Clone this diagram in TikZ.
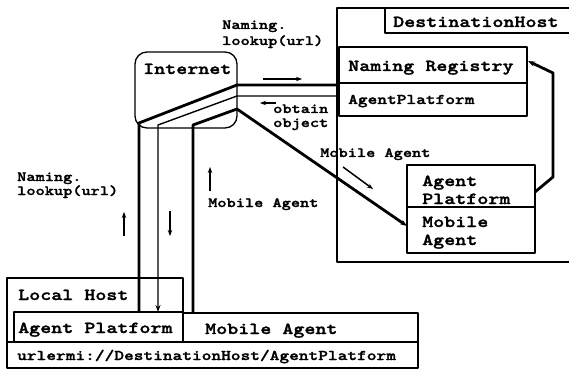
\documentclass[tikz,border=0pt]{standalone}
\usepackage{fontspec}
\newfontfamily\cf{lmmonolt10-bold.otf}[FakeStretch=1.25,FakeBold=1.6]
\usetikzlibrary{arrows.meta}
\newcommand\bigf{\cf\fontsize{16.8}{19}\selectfont}
\newcommand\medf{\cf\fontsize{14.8}{17}\selectfont}
\newcommand\smf{\cf\fontsize{14}{16}\selectfont}
\begin{document}
\begin{tikzpicture}[x=1pt,y=-1pt,line join=round,
  box/.style={draw,line width=1.3pt},
  txt/.style={inner sep=0pt,anchor=base west},
  heavy/.style={line width=2.8pt},
  light/.style={line width=1.4pt},
  tip/.style={-{Stealth[length=7pt,width=5pt]}},
  smallarrow/.style={line width=1.5pt,-{Stealth[length=6pt,width=4.5pt]}}]
\fill[white] (0,0) rectangle (569,374);
\clip (0,0) rectangle (569,374);
% Destination host
\draw[box] (337,8) rectangle (580,262);
\draw[box] (385,8) rectangle (580,33);
\node[txt] (dh) at (393,27) {\bigf DestinationHost};
\draw[box] (339,47) rectangle (527,116);
\draw[box] (339,83) -- (527,83);
\node[txt] (nr) at (348,71) {\bigf Naming Registry};
\node[txt] (ap1) at (348,104) {\medf AgentPlatform};
\draw[box] (407,165) rectangle (535,253);
\draw[box] (407,207) -- (535,207);
\node[txt] (ap2a) at (422,186) {\bigf Agent};
\node[txt] (ap2b) at (422,204) {\bigf Platform};
\node[txt] (ma2a) at (422,227) {\bigf Mobile};
\node[txt] (ma2b) at (422,245) {\bigf Agent};
% Internet
\draw[box,rounded corners=12pt] (135,52) rectangle (237,128);
\node[txt] (inet) at (143,74) {\bigf Internet};
% Local host
\draw[box] (7,278) rectangle (183,342);
\draw[box] (14,312) rectangle (183,342);
\draw[box] (183,313) rectangle (418,342);
\draw[box] (7,342) rectangle (418,368);
\node[txt] (lh) at (18,300) {\bigf Local Host};
\node[txt] (ap3) at (18,333) {\bigf Agent Platform};
\node[txt] (ma3) at (205,334) {\bigf Mobile Agent};
\node[txt] (url) at (17,360) {\medf urlermi://DestinationHost/AgentPlatform};
% connector coordinates
\coordinate (a1) at (139,312); \coordinate (a2) at (139,123);
\coordinate (a3) at (237,85);  \coordinate (a4) at (339,85);
\coordinate (b1) at (158,312); \coordinate (b2) at (158,125);
\coordinate (b3) at (237,96);  \coordinate (b4) at (339,96);
\coordinate (c1) at (193,313); \coordinate (c2) at (193,125);
\coordinate (c3) at (237,109); \coordinate (c4) at (407,226);
\coordinate (d1) at (535,192); \coordinate (d2) at (553,177);
\coordinate (d3) at (553,73);  \coordinate (d4) at (528,61);
\draw[heavy] (a1) -- (a2) -- (a3) -- (a4);
\draw[light,tip] (b4) -- (b3) -- (b2) -- (b1);
\draw[heavy,tip] (c1) -- (c2) -- (c3) -- (c4);
\draw[heavy,tip] (d1) -- (d2) -- (d3) -- (d4);
% small arrows
\coordinate (s1a) at (263,79); \coordinate (s1b) at (302,79);
\draw[smallarrow] (s1a) -- (s1b);
\coordinate (s2a) at (276,103); \coordinate (s2b) at (260,103);
\draw[smallarrow] (s2a) -- (s2b);
\coordinate (s3a) at (343,167); \coordinate (s3b) at (373,189);
\draw[smallarrow] (s3a) -- (s3b);
\coordinate (s4a) at (124,236); \coordinate (s4b) at (124,212);
\draw[smallarrow] (s4a) -- (s4b);
\coordinate (s5a) at (170,211); \coordinate (s5b) at (170,236);
\draw[smallarrow] (s5a) -- (s5b);
\coordinate (s6a) at (210,191); \coordinate (s6b) at (210,167);
\draw[smallarrow] (s6a) -- (s6b);
% labels
\node[txt] (t1) at (222,29) {\smf Naming.};
\node[txt] (t2) at (222,45) {\smf lookup(url)};
\node[txt] (t3) at (17,181) {\smf Naming.};
\node[txt] (t4) at (17,195) {\smf lookup(url)};
\node[txt] (t5) at (208,207) {\smf Mobile Agent};
\node[txt] (t6) at (273,113) {\smf obtain};
\node[txt] (t7) at (273,127) {\smf object};
\node[txt] (t8) at (320,157) {\smf Mobile Agent};
\end{tikzpicture}
\end{document}
